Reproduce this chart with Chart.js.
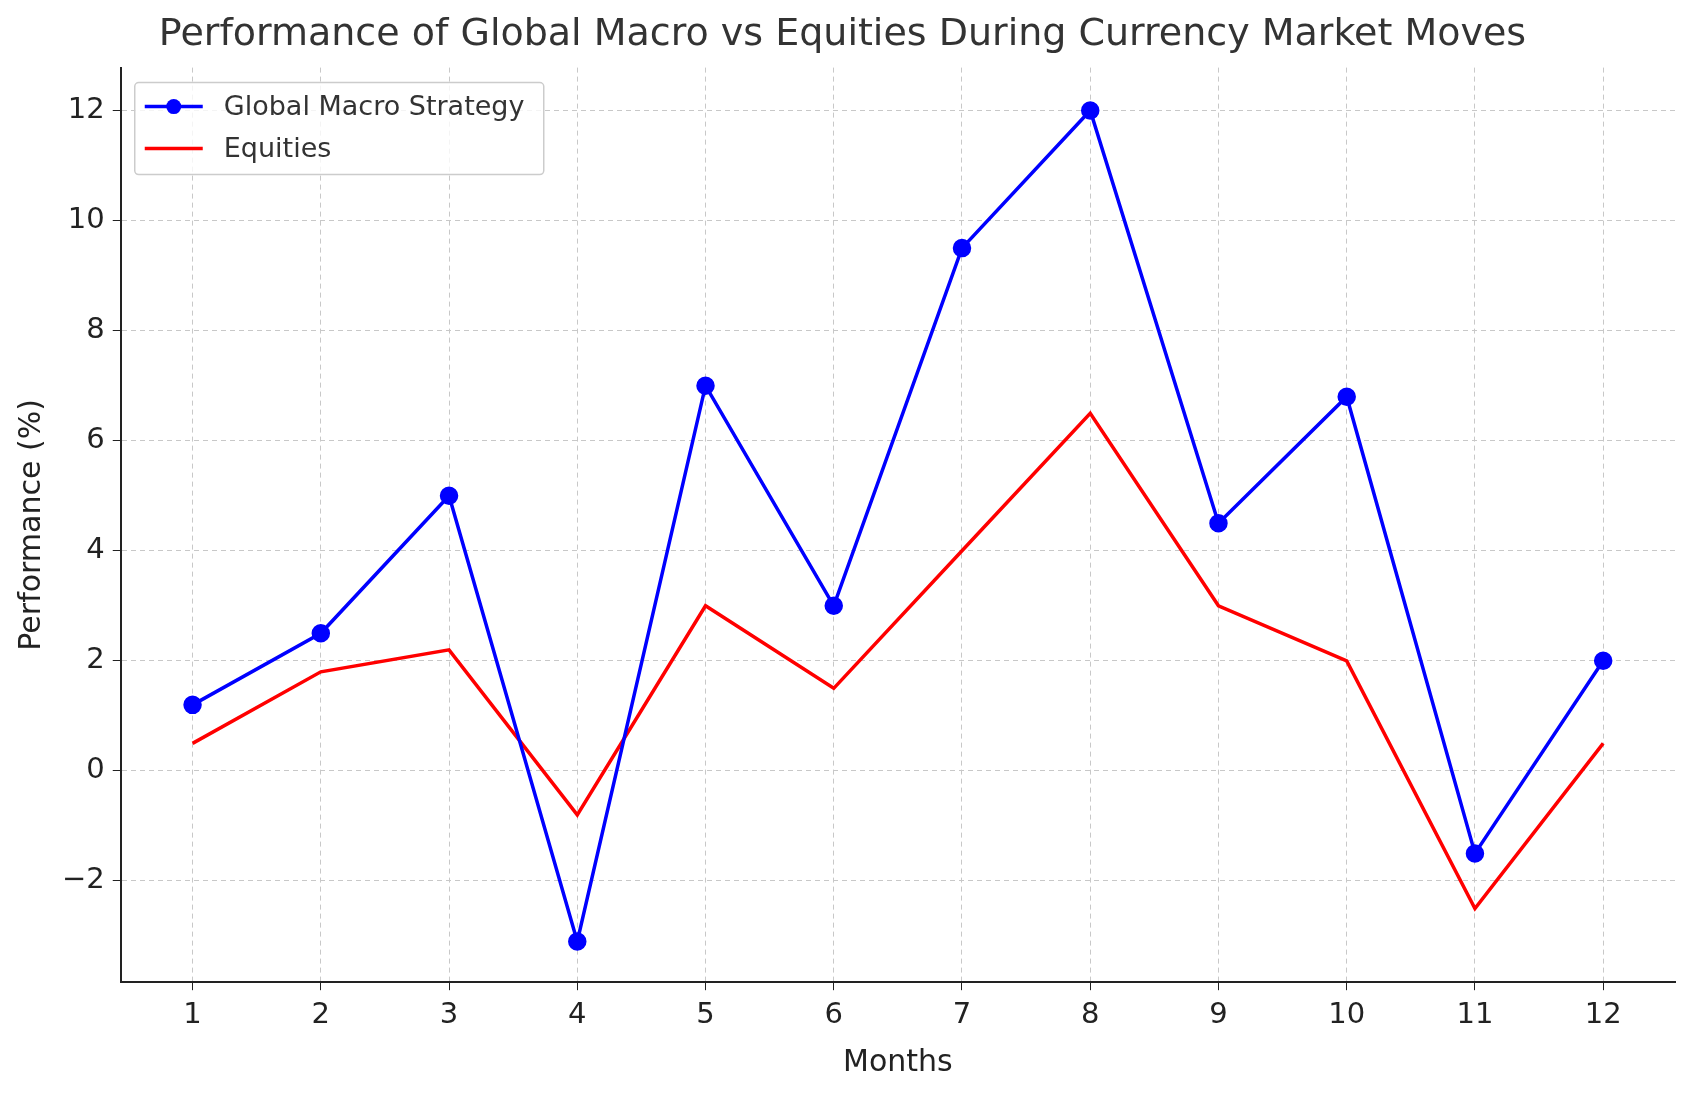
<!DOCTYPE html>
<html>
<head>
<meta charset="utf-8">
<script src="https://cdn.jsdelivr.net/npm/chart.js@4"></script>
<style>
  html, body { margin: 0; padding: 0; background: #fff; }
  #wrap { width: 1693px; height: 1097px; }
</style>
</head>
<body>
<div id="wrap"><canvas id="myChart"></canvas></div>
<script>
// values
var months = [1, 2, 3, 4, 5, 6, 7, 8, 9, 10, 11, 12];
var globalMacro = [1.2, 2.5, 5, -3.1, 7, 3, 9.5, 12, 4.5, 6.8, -1.5, 2];
var equities = [0.5, 1.8, 2.2, -0.8, 3, 1.5, 4, 6.5, 3, 2, -2.5, 0.5];
var yTicks = [-2, 0, 2, 4, 6, 8, 10, 12];

var font = "'DejaVu Sans', sans-serif";

function pts(arr) {
    return arr.map(function (v, i) { return { x: months[i], y: v }; });
}

// legend drawn inside the plot, top-left, like the original
var innerLegend = {
    id: 'innerLegend',
    afterDraw: function (chart) {
        var ctx = chart.ctx;
        var a = chart.chartArea;
        var x = a.left + 14, y = a.top + 15, w = 409, h = 92;
        ctx.save();
        ctx.fillStyle = 'rgba(255,255,255,0.8)';
        ctx.strokeStyle = '#cccccc';
        ctx.lineWidth = 1.5;
        ctx.beginPath();
        ctx.roundRect(x, y, w, h, 4);
        ctx.fill();
        ctx.stroke();
        ctx.font = '27px ' + font;
        ctx.textBaseline = 'middle';
        chart.data.datasets.forEach(function (ds, i) {
            var cy = y + 24 + i * 42;
            ctx.strokeStyle = ds.borderColor;
            ctx.lineWidth = 3.5;
            ctx.beginPath();
            ctx.moveTo(x + 10, cy);
            ctx.lineTo(x + 68, cy);
            ctx.stroke();
            if (ds.pointRadius > 0) {
                ctx.fillStyle = ds.borderColor;
                ctx.beginPath();
                ctx.arc(x + 39, cy, 7.5, 0, Math.PI * 2);
                ctx.fill();
            }
            ctx.fillStyle = '#333';
            ctx.fillText(ds.label, x + 89, cy + 1);
        });
        ctx.restore();
    }
};

var ctx = document.getElementById('myChart').getContext('2d');
var myChart = new Chart(ctx, {
    type: 'line',
    data: {
        datasets: [{
            label: 'Global Macro Strategy',
            data: pts(globalMacro),
            borderColor: '#0000ff',
            backgroundColor: '#0000ff',
            borderWidth: 3.5,
            pointRadius: 7.5,
            pointHoverRadius: 7.5,
            tension: 0
        }, {
            label: 'Equities',
            data: pts(equities),
            borderColor: '#ff0000',
            backgroundColor: '#ff0000',
            borderWidth: 3.5,
            pointRadius: 0,
            tension: 0
        }]
    },
    options: {
        responsive: true,
        maintainAspectRatio: false,
        animation: false,
        layout: { padding: { left: 10, right: 18, top: 0, bottom: 12 } },
        plugins: {
            legend: { display: false },
            tooltip: { enabled: false },
            title: {
                display: true,
                text: 'Performance of Global Macro vs Equities During Currency Market Moves',
                color: '#333',
                font: { family: font, size: 38, weight: 'normal' },
                padding: { top: 12, bottom: 10 }
            }
        },
        scales: {
            x: {
                type: 'linear',
                min: 0.44,
                max: 12.56,
                afterBuildTicks: function (axis) {
                    axis.ticks = months.map(function (m) { return { value: m }; });
                },
                ticks: { color: '#222', font: { family: font, size: 29 }, padding: 8 },
                grid: { color: '#c8c8c8', lineWidth: 1, tickLength: 8, tickColor: '#222' },
                border: { color: '#222', width: 2, dash: [5, 4] },
                title: { display: true, text: 'Months', color: '#222', font: { family: font, size: 30 } }
            },
            y: {
                min: -3.84,
                max: 12.78,
                afterBuildTicks: function (axis) {
                    axis.ticks = yTicks.map(function (v) { return { value: v }; });
                },
                ticks: {
                    color: '#222', font: { family: font, size: 29 }, padding: 8,
                    callback: function (v) { return v < 0 ? '\u2212' + Math.abs(v) : v; }
                },
                grid: { color: '#c8c8c8', lineWidth: 1, tickLength: 8, tickColor: '#222' },
                border: { color: '#222', width: 2, dash: [5, 4] },
                title: { display: true, text: 'Performance (%)', color: '#222', font: { family: font, size: 30 } }
            }
        }
    },
    plugins: [innerLegend]
});
</script>
</body>
</html>
